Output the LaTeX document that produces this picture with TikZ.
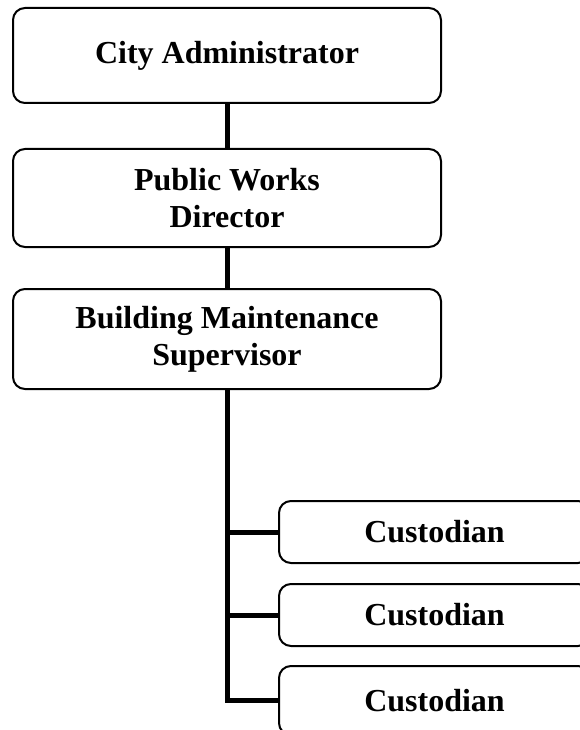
\documentclass[tikz,border=0pt]{standalone}
\usepackage{fontspec}
\setmainfont{Liberation Serif}
\usetikzlibrary{positioning}
\tikzset{
every node/.style={font=\bfseries\fontsize{32}{37}\selectfont}
, postbox/.style={draw,rounded corners=12pt,align=center,inner sep=0pt,minimum width=428pt}
, staffbox/.style={draw,rounded corners=12pt,inner sep=0pt,minimum width=311pt,minimum height=62pt}
, link/.style={line width=5pt}
, sublink/.style={line width=5pt}}

\begin{document}
\begin{tikzpicture}[x=1pt,y=-1pt,line width=2pt]
\useasboundingbox (0,0) rectangle (580,730);
\clip (0,0) rectangle (580,730);
\node[postbox,minimum height=95pt] at (227, 55.5) (city) {City Administrator};
\node[postbox,minimum height=98pt,below=44pt of city] (pwd) {Public Works\\Director};
\node[postbox,minimum height=100pt,below=40pt of pwd] (bms) {Building Maintenance\\Supervisor};
\node[staffbox] at (434.5, 532) (cust1) {Custodian};
\node[staffbox,below=19pt of cust1] (cust2) {Custodian};
\node[staffbox,minimum height=69pt,below=18pt of cust2] (cust3) {Custodian};
\draw [link] (city) -- (pwd);
\draw [link] (pwd) -- (bms);
\draw [link] (bms.south) |- (cust3.west);
\draw [sublink] (bms.south |- cust1.west) -- (cust1.west);
\draw [sublink] (bms.south |- cust2.west) -- (cust2.west);
\end{tikzpicture}
\end{document}
